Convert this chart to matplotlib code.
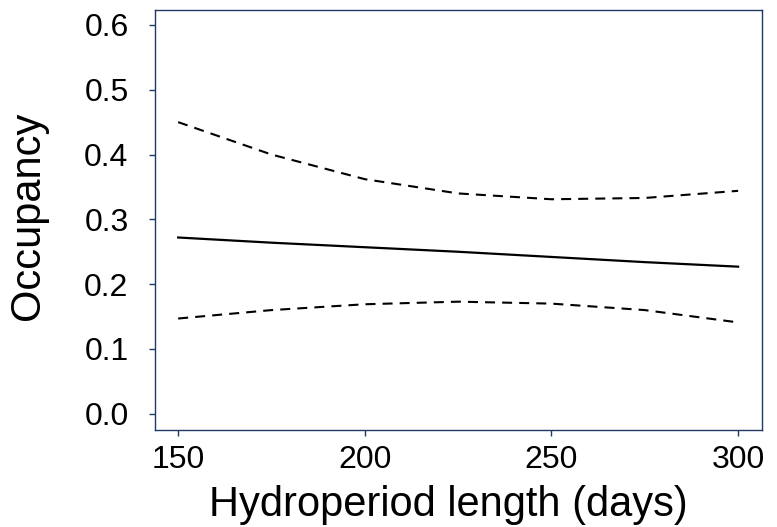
import matplotlib
matplotlib.use("Agg")
import matplotlib.pyplot as plt

# values
hydroperiod = [150, 175, 200, 225, 250, 275, 300]
occ_mean = [0.272, 0.264, 0.257, 0.250, 0.242, 0.234, 0.227]
occ_upper = [0.450, 0.400, 0.362, 0.340, 0.331, 0.333, 0.344]
occ_lower = [0.147, 0.160, 0.169, 0.173, 0.170, 0.160, 0.141]

xticks = [150, 200, 250, 300]
yticks = [0.0, 0.1, 0.2, 0.3, 0.4, 0.5, 0.6]

plt.rcParams['font.family'] = ['Liberation Sans', 'DejaVu Sans']
spine_col = "#1f3864"

fig = plt.figure(figsize=(7.77, 5.27), dpi=100)
ax = fig.add_axes([155 / 777, 1 - 430 / 527, 607 / 777, 420 / 527])

ax.plot(hydroperiod, occ_mean, color="black", linewidth=1.6)
ax.plot(hydroperiod, occ_upper, color="black", linewidth=1.5, linestyle=(0, (4.8, 3.4)))
ax.plot(hydroperiod, occ_lower, color="black", linewidth=1.5, linestyle=(0, (4.8, 3.4)))

ax.set_xlim(143.8, 306.4)
ax.set_ylim(-0.025, 0.623)
ax.set_xticks(xticks)
ax.set_yticks(yticks)
ax.set_yticklabels([f"{v:.1f}" for v in yticks])

for s in ax.spines.values():
    s.set_color(spine_col)
    s.set_linewidth(1.0)
ax.tick_params(direction="out", length=4, width=1.0, color=spine_col,
               labelsize=23)
ax.tick_params(axis="y", pad=15)
ax.tick_params(axis="x", pad=7)

ax.set_xlabel("Hydroperiod length (days)", fontsize=30)
ax.set_ylabel("Occupancy", fontsize=30)
ax.xaxis.set_label_coords(0.484, -0.132)
ax.yaxis.set_label_coords(-0.176, 0.51)

fig.savefig("out.png", dpi=100)
